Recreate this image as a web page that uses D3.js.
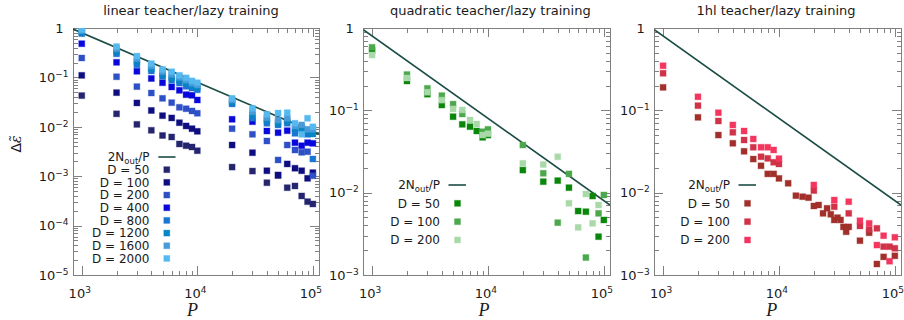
<!DOCTYPE html>
<html><head><meta charset="utf-8">
<script src="https://cdn.jsdelivr.net/npm/d3@7"></script>
<style>
body{margin:0;background:#fff}
svg{display:block}
text{font-family:"DejaVu Sans",sans-serif;fill:#1a1a1a}
</style>
</head><body>
<svg id="c" width="904" height="320"></svg>
<script>
// ---------------- data ----------------
const P_grid = [1000,2000,3000,4000,5000,6000,7000,8000,9000,10000,20000,30000,40000,50000,60000,70000,80000,90000,100000];
const P_hl_D50 = [1000,2000,3000,4000,5000,6000,7000,8000,9000,10000,12000,14000,16000,18000,20000,22000,24000,26000,28000,30000,32000,34000,36000,38000,40000,50000,60000,70000,80000,100000];
const twoNout = 800;

// linear teacher
const lin_D50   = [0.0428,0.0183,0.0112,0.0085,0.00667,0.00622,0.00449,0.00414,0.0039,0.00328,0.00153,0.00127,0.000738,0.00103,0.000585,0.000634,0.000398,0.000305,0.000274];
const lin_D100  = [0.110,0.0491,0.0304,0.0214,0.0168,0.0151,0.0121,0.0104,0.00916,0.0081,0.00428,0.00299,0.00129,0.00106,0.00177,0.00145,0.00129,0.000906,0.00118];
const lin_D200  = [0.247,0.103,0.065,0.0483,0.0377,0.0308,0.0248,0.0232,0.0209,0.0188,0.00916,0.00705,0.00516,0.00213,0.00428,0.00339,0.00304,0.00313,0.00102];
const lin_D400  = [0.481,0.202,0.133,0.095,0.078,0.064,0.0548,0.0447,0.0434,0.0349,0.0142,0.0127,0.00822,0.0076,0.00834,0.00477,0.00414,0.00477,0.00463];
const lin_D800  = [0.77,0.30,0.18,0.135,0.105,0.087,0.077,0.066,0.061,0.056,0.029,0.0149,0.0118,0.0109,0.0118,0.00738,0.0086,0.00705,0.00223];
const lin_D1200 = [0.83,0.33,0.21,0.15,0.115,0.10,0.088,0.078,0.068,0.063,0.0318,0.0173,0.0137,0.0121,0.0131,0.0093,0.0096,0.00798,0.00715];
const lin_D1600 = [0.88,0.38,0.24,0.17,0.13,0.115,0.10,0.088,0.076,0.07,0.0349,0.0202,0.0153,0.0137,0.0149,0.0104,0.0109,0.0089,0.0089];
const lin_D2000 = [0.93,0.42,0.27,0.19,0.145,0.13,0.11,0.098,0.085,0.078,0.0377,0.0237,0.0179,0.019,0.0193,0.0118,0.00705,0.0149,0.01];

// quadratic teacher
const quad_D50  = [0.53,0.227,0.157,0.116,0.0837,0.0676,0.0633,0.0561,0.047,0.050,0.0188,0.0136,0.014,0.0115,0.00598,0.00587,0.0091,0.00292,0.00466];
const quad_D100 = [0.583,0.272,0.185,0.151,0.119,0.0902,null,null,0.055,0.0588,0.0379,0.0172,0.00432,0.0169,null,0.00163,null,0.00561,0.00937];
const quad_D200 = [0.47,0.247,0.166,0.133,0.104,0.101,0.0763,0.0682,0.0501,0.052,0.0227,0.022,0.0273,0.00743,0.00379,0.00963,0.00424,0.00708,null];

// 1hl teacher
const hl_D50  = [0.19,0.0822,0.0501,0.0398,0.0318,0.0256,0.0212,0.0169,0.0169,0.0149,0.013,0.00919,0.00893,0.00869,0.00689,0.00708,0.00561,0.00646,0.00546,0.00466,0.00497,0.00466,0.00384,0.00335,0.00384,0.00261,0.00326,0.00136,0.00166,0.00171];
const hl_D100 = [0.282,0.114,0.0742,0.0541,0.0436,0.0356,0.0273,0.0261,0.0234,0.0223,0.0106,0.00675,0.00561,0.00394,0.00357,0.00369,0.00221,0.00221,0.00211];
const hl_D200 = [0.348,0.146,0.0936,0.0664,0.0561,0.0449,0.0356,0.0356,0.033,0.0259,0.0124,0.00814,0.00776,0.00456,0.00424,0.00231,0.003,0.00147,0.00287];

const titles = ["linear teacher/lazy training","quadratic teacher/lazy training","1hl teacher/lazy training"];

// ---------------- layout ----------------
const svg = d3.select("#c");
const FRAME = "#808080";
const LINEC = "#1c4d45";
const xDomain = [840, 113000];
const plotTop = 28, plotBottom = 275;

const panels = [
  {left:73, right:319, yDomain:[1e-5,1], title:titles[0], titleX:191,
   series:[
     {name:"D = 50",  P:P_grid, v:lin_D50,  c:"#25256f"},
     {name:"D = 100", P:P_grid, v:lin_D100, c:"#0e0e80"},
     {name:"D = 200", P:P_grid, v:lin_D200, c:"#2e50c6"},
     {name:"D = 400", P:P_grid, v:lin_D400, c:"#0808dc"},
     {name:"D = 800", P:P_grid, v:lin_D800, c:"#1a76d2"},
     {name:"D = 1200",P:P_grid, v:lin_D1200,c:"#0686c4"},
     {name:"D = 1600",P:P_grid, v:lin_D1600,c:"#4a9ad8"},
     {name:"D = 2000",P:P_grid, v:lin_D2000,c:"#55b9ef"}],
   leg:{textRight:149.5, lx0:158.3, lx1:175.5, mx:166.8, y0:157, dy:12.68}, xlabX:192.5},
  {left:363.3, right:610, yDomain:[1e-3,1], title:titles[1], titleX:490.3,
   series:[
     {name:"D = 50",  P:P_grid, v:quad_D50,  c:"#0a870a"},
     {name:"D = 100", P:P_grid, v:quad_D100, c:"#4ca84c"},
     {name:"D = 200", P:P_grid, v:quad_D200, c:"#a9d9a9"}],
   leg:{textRight:440, lx0:448.5, lx1:466, mx:457.5, y0:185, dy:18.33}, xlabX:484},
  {left:654.3, right:901, yDomain:[1e-3,1], title:titles[2], titleX:776,
   series:[
     {name:"D = 50",  P:P_hl_D50, v:hl_D50,  c:"#a2302a"},
     {name:"D = 100", P:P_grid,   v:hl_D100, c:"#d03248"},
     {name:"D = 200", P:P_grid,   v:hl_D200, c:"#f4365f"}],
   leg:{textRight:730, lx0:738.5, lx1:756, mx:747.5, y0:185, dy:18.33}, xlabX:771.7}
];

const SUP = 9, BASE = 13, LEGF = 12;

function powLabel(g, x, y, exp, anchor){
  const t = g.append("text").attr("x",x).attr("y",y).attr("text-anchor",anchor)
    .style("font-size",BASE+"px");
  t.append("tspan").text("10");
  t.append("tspan").attr("dy",-5).style("font-size",SUP+"px").text(String(exp).replace("-","\u2212"));
  return t;
}

panels.forEach((p,pi)=>{
  const g = svg.append("g");
  const sx = d3.scaleLog().domain(xDomain).range([p.left,p.right]);
  const sy = d3.scaleLog().domain(p.yDomain).range([plotBottom,plotTop]);

  const cid = "clip"+pi;
  svg.append("clipPath").attr("id",cid).append("rect")
     .attr("x",p.left).attr("y",plotTop).attr("width",p.right-p.left).attr("height",plotBottom-plotTop);

  // ticks
  const tg = g.append("g").attr("stroke",FRAME).attr("stroke-width",1).attr("shape-rendering","crispEdges");
  const xt = [];
  for(let e=3;e<=5;e++){ for(let k=1;k<=9;k++){ const v=k*Math.pow(10,e); if(v>=1000 && v<=100000) xt.push({v, major:k===1}); } }
  xt.forEach(t=>{
    const x = Math.round(sx(t.v))+0.5, L = t.major?9:4.5;
    tg.append("line").attr("x1",x).attr("x2",x).attr("y1",plotBottom).attr("y2",plotBottom-L);
    tg.append("line").attr("x1",x).attr("x2",x).attr("y1",plotTop).attr("y2",plotTop+L);
  });
  const e0 = Math.round(Math.log10(p.yDomain[0]));
  const yt = [];
  for(let e=e0;e<=0;e++){ for(let k=1;k<=9;k++){ const v=k*Math.pow(10,e); if(v<=1.0000001) yt.push({v,major:k===1,e}); } }
  yt.forEach(t=>{
    const y = Math.round(sy(t.v))+0.5, L = t.major?9:4.5;
    tg.append("line").attr("x1",p.left).attr("x2",p.left+L).attr("y1",y).attr("y2",y);
    tg.append("line").attr("x1",p.right).attr("x2",p.right-L).attr("y1",y).attr("y2",y);
  });

  // frame
  g.append("rect").attr("x",p.left+0.5).attr("y",plotTop+0.5).attr("width",p.right-p.left).attr("height",plotBottom-plotTop)
    .attr("fill","none").attr("stroke",FRAME).attr("stroke-width",1).attr("shape-rendering","crispEdges");

  // tick labels
  [3,4,5].forEach(e=>{ powLabel(g, sx(Math.pow(10,e))-2, 297.5, e, "middle"); });
  yt.filter(t=>t.major).forEach(t=>{
    const y = sy(t.v)+4.7;
    if(t.e===0){
      g.append("text").attr("x",p.left-9.5).attr("y",y).attr("text-anchor","end").style("font-size",BASE+"px").text("1");
    } else {
      powLabel(g, p.left-4.5, y, t.e, "end");
    }
  });

  // title
  g.append("text").attr("x",p.titleX).attr("y",15).attr("text-anchor","middle").style("font-size","13px").text(p.title);
  // x label
  g.append("text").attr("x",p.xlabX).attr("y",316).attr("text-anchor","middle")
    .style("font-family","'Liberation Serif',serif").style("font-style","italic").style("font-size","18px").text("P");

  // data
  const dg = g.append("g").attr("clip-path","url(#"+cid+")");
  dg.append("path").datum(xDomain)
    .attr("d", d3.line().x(d=>sx(d)).y(d=>sy(twoNout/d)))
    .attr("fill","none").attr("stroke",LINEC).attr("stroke-width",1.6);
  const S = 6;
  p.series.forEach(s=>{
    const pts = s.P.map((P,i)=>({P, v:s.v[i]})).filter(d=>d.v!=null);
    dg.append("g").selectAll("rect").data(pts).join("rect")
      .attr("x",d=>sx(d.P)-S/2).attr("y",d=>sy(d.v)-S/2).attr("width",S).attr("height",S)
      .attr("fill",s.c).attr("stroke",s.c).attr("stroke-opacity",0.35).attr("stroke-width",1);
  });

  // legend
  const L = p.leg;
  const lg = g.append("g");
  const t0 = lg.append("text").attr("x",L.textRight).attr("y",L.y0+4.3).attr("text-anchor","end").style("font-size",LEGF+"px");
  t0.append("tspan").text("2N");
  t0.append("tspan").attr("dy",2.5).style("font-size","8.5px").text("out");
  t0.append("tspan").attr("dy",-2.5).text("/P");
  lg.append("line").attr("x1",L.lx0).attr("x2",L.lx1).attr("y1",L.y0).attr("y2",L.y0)
    .attr("stroke",LINEC).attr("stroke-width",1.6);
  p.series.forEach((s,i)=>{
    const y = L.y0 + L.dy*(i+1);
    lg.append("text").attr("x",L.textRight).attr("y",y+4.3).attr("text-anchor","end").style("font-size",LEGF+"px").text(s.name);
    lg.append("rect").attr("x",L.mx-S/2).attr("y",y-S/2).attr("width",S).attr("height",S)
      .attr("fill",s.c).attr("stroke",s.c).attr("stroke-opacity",0.35).attr("stroke-width",1);
  });
});

// y axis label
const yl = svg.append("text").attr("transform","translate(20.5,144) rotate(-90)").attr("text-anchor","middle").style("font-size","14px");
yl.append("tspan").text("\u0394");
yl.append("tspan").style("font-family","'DejaVu Serif',serif").style("font-style","italic").text("\u03B5\u0303");
</script>
</body></html>
